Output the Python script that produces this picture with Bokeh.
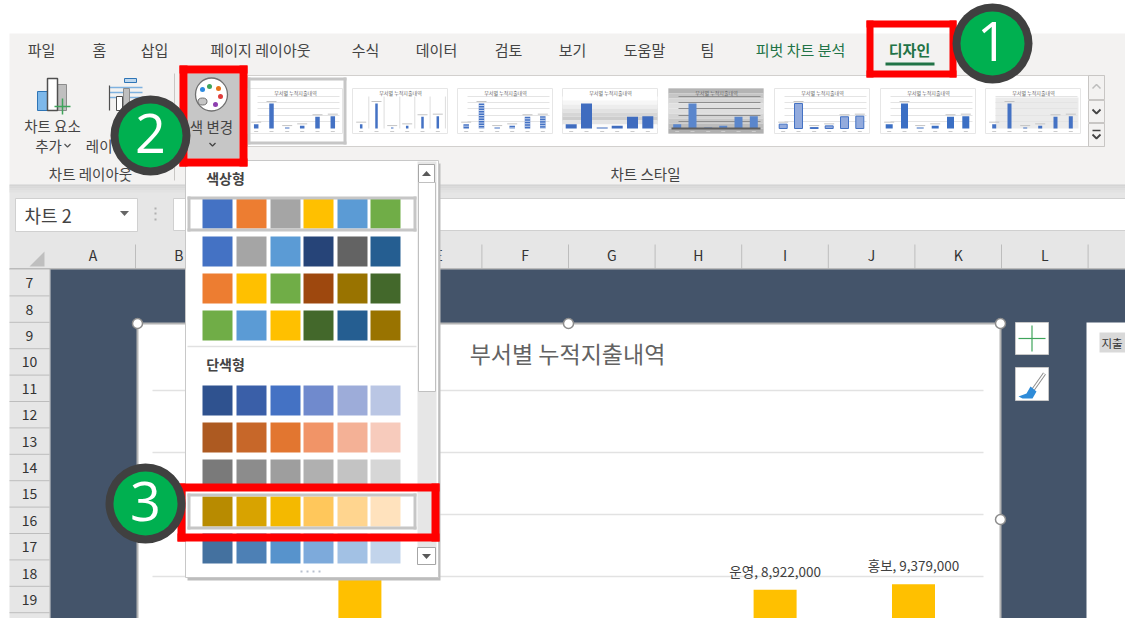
from bokeh.plotting import figure
from bokeh.models import Range1d
from bokeh.core.properties import value
from bokeh.embed import file_html
from bokeh.resources import INLINE

# ---------- data ----------
dept_labels = ["", "", "", "", "운영", "홍보"]
# first four are hidden behind the popup / below the crop: estimated from the style thumbnails
dept_spend = [3300000, 19000000, 700000, 2000000, 8922000, 9379000]
grid_values = [10000000, 15000000, 20000000, 25000000]
chart_title = "부서별 누적지출내역"

tab_names = ["파일", "홈", "삽입", "페이지 레이아웃", "수식", "데이터", "검토", "보기", "도움말", "팀"]
column_letters = ["A", "B", "C", "D", "E", "F", "G", "H", "I", "J", "K", "L"]
row_numbers = [7, 8, 9, 10, 11, 12, 13, 14, 15, 16, 17, 18, 19]

palette_colorful = [
    ["#4472C4", "#ED7D31", "#A5A5A5", "#FFC000", "#5B9BD5", "#70AD47"],
    ["#4472C4", "#A5A5A5", "#5B9BD5", "#264478", "#636363", "#255E91"],
    ["#ED7D31", "#FFC000", "#70AD47", "#9E480E", "#997300", "#43682B"],
    ["#70AD47", "#5B9BD5", "#FFC000", "#43682B", "#255E91", "#997300"],
]
palette_mono = [
    ["#2F528F", "#3A5FA8", "#4472C4", "#708ACD", "#9DACD9", "#BAC6E4"],
    ["#AD5A21", "#C76729", "#E27630", "#F19467", "#F4B196", "#F7CBBC"],
    ["#7A7A7A", "#8C8C8C", "#9E9E9E", "#B0B0B0", "#C3C3C3", "#D6D6D6"],
    ["#B88B00", "#D8A300", "#F4B900", "#FFC75B", "#FFD58F", "#FFE2BD"],
    ["#44719F", "#4D80B5", "#5793CC", "#7DAADB", "#A2C1E4", "#C2D4EB"],
]

FONT = "Noto Sans CJK KR"
W, H = 1125, 618
ZERO_ROW, PX_PER_UNIT = 700.0, 62.0 / 5000000.0

p = figure(width=W, height=H, output_backend="svg", toolbar_location=None,
           x_range=Range1d(0, W), y_range=Range1d(H, 0),
           min_border=0, min_border_left=0, min_border_right=0, min_border_top=0, min_border_bottom=0,
           background_fill_color="white", border_fill_color="white", outline_line_color=None)
p.xaxis.visible = False
p.yaxis.visible = False
p.grid.visible = False

# value and category scales of the Excel chart
p.extra_y_ranges["spend"] = Range1d((ZERO_ROW - H) / PX_PER_UNIT, ZERO_ROW / PX_PER_UNIT)
p.extra_x_ranges["dept"] = Range1d((0 - 221) / 138.4, (W - 221) / 138.4)


def box(x0, y0, x1, y1, fill, line=None, lw=1):
    p.quad(left=[x0], right=[x1], top=[y0], bottom=[y1], fill_color=fill,
           line_color=line, line_width=lw)


def frame(x0, y0, x1, y1, color, t):
    box(x0, y0, x1, y0 + t, color)
    box(x0, y1 - t, x1, y1, color)
    box(x0, y0, x0 + t, y1, color)
    box(x1 - t, y0, x1, y1, color)


def seg(xs, ys, color, lw=1):
    p.line(xs, ys, line_color=color, line_width=lw)


def txt(x, y, s, size=15, color="#444444", align="center", style="normal", font=FONT):
    p.text([x], [y], text=[s], text_font=value(font), text_font_size=f"{size}px",
           text_color=color, text_align=align, text_baseline="middle", text_font_style=style)


def tri(cx, cy, half, color, up=False):
    d = -1 if up else 1
    p.patch([cx - half, cx + half, cx], [cy - d * half * 0.55, cy - d * half * 0.55, cy + d * half * 0.55],
            fill_color=color, line_color=None)


def chevron(cx, cy, half, color, lw=1.5, up=False):
    d = -1 if up else 1
    seg([cx - half, cx, cx + half], [cy - d * half / 2, cy + d * half / 2, cy - d * half / 2], color, lw)


# ---------- ribbon ----------
box(9, 33, W, 184, "#F3F2F1")
tab_centres = [41, 99, 154, 260, 365, 436, 508, 572, 644, 707]
for n, cx in zip(tab_names, tab_centres):
    txt(cx, 49, n, 15)
txt(800, 49, "피벗 차트 분석", 15, "#217346")
txt(909, 49, "디자인", 15, "#217346", style="bold")
box(885, 62, 934, 65, "#217346")

# chart element icon
box(37, 91, 47, 110, "#7DB8EA", "#2E75B6", 1)
box(57, 84, 66, 110, "#BFBFBF", "#8C8C8C", 1)
box(47, 78, 57, 110, "white", "#505050", 1.5)
seg([62, 62], [98, 114], "#3FA45B", 1.5)
seg([54, 70], [106, 106], "#3FA45B", 1.5)
txt(52, 125, "차트 요소", 14.5)
txt(48, 145, "추가", 14.5)
chevron(67, 145, 3, "#555555", 1.2)

# quick layout icon
box(124, 78, 136, 82, "#BDD7EE", "#2E75B6", 1)
for yy in (87, 92, 97):
    seg([109, 142], [yy, yy], "#7FB2E0", 1.5)
seg([109, 109], [85, 110], "#505050", 1.2)
box(116, 96, 122, 110, "white", "#505050", 1)
box(123, 88, 129, 110, "#BFBFBF", "#8C8C8C", 1)
txt(112, 145, "레이", 14.5, align="right")
txt(90, 173, "차트 레이아웃", 14.5)
seg([174, 174], [73, 180], "#C8C6C4", 1)

# gallery
box(247, 75, 1104, 146, "white", "#D2D0CE", 1)
thumb_lefts = [247, 352, 457, 562, 668, 774, 880, 985]
thumb_bar_w = [4.5, 2.5, 5.5, 11, 8, 8, 7, 4]
thumb_bar_c = ["#4472C4", "#4472C4", "#4472C4", "#3F6CBF", "#5A86CC", "#93ABDD", "#3B6FC4", "#4472C4"]
thumb_offs = [8.7, 24, 39.7, 54.7, 70, 85.3]
for i, (tx, bw, bc) in enumerate(zip(thumb_lefts, thumb_bar_w, thumb_bar_c)):
    box(tx, 88, tx + 95, 133, "white", "#E6E6E6", 1)
    if i == 3:
        for k, c in enumerate(["#FFFFFF", "#F6F6F6", "#EDEDED", "#E2E2E2", "#D6D6D6", "#CDCDCD", "#E4E4E4", "#FBFBFB"]):
            box(tx, 96 + k * 4, tx + 95, 100 + k * 4, c)
    if i == 4:
        for k, c in enumerate(["#B4B4B4", "#C6C6C6", "#D6D6D6", "#E0E0E0", "#DEDEDE", "#D4D4D4", "#C8C8C8", "#BCBCBC", "#B0B0B0"]):
            box(tx, 88 + k * 5, tx + 95, 93 + k * 5, c)
    if i == 7:
        box(tx + 10, 97, tx + 93, 128, "#EBEBEB")
    if i == 1:
        for o in thumb_offs:
            seg([tx + o + 7.6] * 2, [96, 128], "#DDDDDD", 1)
    elif i != 3:
        for yy in (96, 102, 108, 115, 121):
            seg([tx + 10, tx + 92], [yy, yy], "#8E8E8E" if i == 4 else "#E4E4E4", 1)
    for o, v in zip(thumb_offs, dept_spend):
        h = v / 760000.0
        box(tx + o - bw / 2, 128 - h, tx + o + bw / 2, 128, bc, "#4472C4" if i == 5 else None, 1)
        if i == 2:
            yy = 128 - h + 2
            while yy < 128:
                seg([tx + o - bw / 2, tx + o + bw / 2], [yy, yy], "white", 0.7)
                yy += 2.5
        if i not in (3, 4):
            seg([tx + o - 5, tx + o + 5], [128 - h - 2] * 2, "#C4C4C4", 1)
        seg([tx + o - 2, tx + o + 2], [131, 131], "#CCCCCC", 1)
    if i == 4:
        box(tx + 3, 127, tx + 92, 129, "#5F5F5F")
    txt(tx + 48, 92, chart_title, 5, "#666666")
frame(247, 77, 346, 144, "#C6C6C6", 3)

for y0, y1 in ((75, 99), (100, 122), (123, 146)):
    box(1088, y0, 1104, y1, "#F3F2F1", "#C8C6C4", 1)
chevron(1096, 86, 4, "#BDBDBD", 1.5, up=True)
chevron(1096, 111, 4, "#444444", 1.8)
seg([1092, 1100], [130, 130], "#444444", 1.3)
chevron(1096, 136, 4, "#444444", 1.8)
txt(645, 173, "차트 스타일", 14.5)

# change-colours button
box(187, 73, 239, 158, "#C6C6C6")
p.ellipse([211], [94], width=[32], height=[33], fill_color="white", line_color="#707070", line_width=1.3)
p.ellipse([202], [101], width=[9], height=[7], fill_color="#C6C6C6", line_color="#707070", line_width=1)
for dx, dy, dc in [(202, 89, "#2E8BE0"), (209, 86, "#3FA45B"), (218, 88, "#E8731A"), (220, 96, "#E03C3C"), (215, 104, "#8E3FB0")]:
    p.circle([dx], [dy], radius=2.5, fill_color=dc, line_color=None)
txt(211, 126, "색 변경", 14.5)
chevron(212, 144, 3, "#444444", 1.3)

# ---------- formula bar, headers ----------
box(9, 184, W, 269, "#E6E6E6")
for k, c in enumerate(["#D4D4D4", "#D9D9D9", "#DEDEDE", "#E2E2E2"]):
    box(9, 184 + k * 2, W, 186 + k * 2, c)
box(15, 198, 137, 231, "white", "#D0D0D0", 1)
txt(24, 214, "차트 2", 18, align="left")
tri(124, 213, 4.5, "#666666")
for yy in (208, 213, 219):
    box(154, yy - 1, 156, yy + 1, "#B0B0B0")
box(173, 198, W, 230, "white", "#D0D0D0", 1)

col_left = 135.0
col_step = 86.6
for i, c in enumerate(column_letters):
    if i == 0:
        cx, right = 92.5, col_left
    else:
        cx, right = col_left + col_step * (i - 0.5), col_left + col_step * i
    txt(cx, 254, c, 14, "#333333")
    seg([right, right], [244, 268], "#BDBDBD", 1)
p.patch([44, 44, 29], [251, 266, 266], fill_color="#BFBFBF", line_color=None)
seg([9, W], [268.5, 268.5], "#ABABAB", 1.5)

row_top, row_h = 269.0, 26.4
box(9, 269, 49, H, "#E6E6E6")
for i, r in enumerate(row_numbers):
    seg([9, 49], [row_top + (i + 1) * row_h] * 2, "#BDBDBD", 1)
    txt(29, row_top + (i + 0.5) * row_h, str(r), 14, "#333333")
seg([49.5, 49.5], [269, H], "#ABABAB", 1)

# ---------- sheet with the Excel chart ----------
box(50, 269, W, H, "#44546A")
box(137, 323, 1000, H + 3, "white", "#B4B4B4", 2)
for v in grid_values:
    p.line([152, 983], [ZERO_ROW - v * PX_PER_UNIT] * 2, line_color="#E2E2E2", line_width=1.5)
txt(567, 352, chart_title, 23, "#636363")

dept_x = list(range(len(dept_spend)))
p.vbar(x=dept_x, top=dept_spend, bottom=0, width=43 / 138.4, fill_color="#FFC000", line_color=None,
       x_range_name="dept", y_range_name="spend")
for i, (name, v) in enumerate(zip(dept_labels, dept_spend)):
    if name:
        p.text([i], [v], text=[f"{name}, {v:,}"], x_range_name="dept", y_range_name="spend",
               text_font=value(FONT), text_font_size="13.5px", text_color="#404040",
               text_align="center", text_baseline="bottom", y_offset=-9)

for hx, hy in [(137, 323), (568, 323), (1000, 323), (1000, 519)]:
    p.circle([hx], [hy], radius=5, fill_color="white", line_color="#8C8C8C", line_width=1.5)

box(1015, 322, 1048, 354, "white", "#C8C8C8", 1)
seg([1031.5, 1031.5], [325, 351], "#3FA45B", 1.2)
seg([1018, 1045], [338, 338], "#3FA45B", 1.2)
box(1015, 367, 1048, 400, "white", "#C8C8C8", 1)
seg([1044, 1032], [373, 390], "#8C8C8C", 3.5)
seg([1044, 1032], [373, 390], "white", 1.5)
p.patch([1030, 1036, 1032, 1022, 1018, 1026], [386, 391, 398, 398, 396, 393],
        fill_color="#2E8BD8", line_color=None)

box(1086, 322, W, H, "white")
box(1099, 332, W, 352, "#D9D9D9")
txt(1101, 342, "지출", 11.5, "#333333", align="left")

# ---------- colour popup ----------
box(187, 163, 440, 580, "#BDBDBD")
box(185, 160, 438, 577, "white", "#C8C8C8", 1)
box(417, 161, 436, 564, "#E6E6E6")
box(418, 164, 434, 182, "white", "#A6A6A6", 1)
tri(426, 173, 4.5, "#595959", up=True)
box(418, 182, 435, 391, "white", "#C0C0C0", 1)
box(417, 547, 435, 564, "white", "#A6A6A6", 1)
tri(426, 556, 4.5, "#595959")
txt(225, 177, "색상형", 14, "#444444", style="bold")
txt(225, 363, "단색형", 14, "#444444", style="bold")
seg([187, 416], [346, 346], "#E1E1E1", 1.5)

sw_x = [202, 236, 270, 303, 337, 370]
sw_w = 30
for ry, row in zip([198, 236, 273, 310], palette_colorful):
    for sx, c in zip(sw_x, row):
        box(sx, ry, sx + sw_w, ry + sw_w, c)
for ry, row in zip([385, 422, 459, 496, 533], palette_mono):
    for sx, c in zip(sw_x, row):
        box(sx, ry, sx + sw_w, ry + sw_w, c)
frame(187, 196, 416, 231, "#C6C6C6", 3)
frame(187, 493, 416, 529, "#C6C6C6", 3)
for dx in (301, 307, 313, 319):
    box(dx - 1, 570, dx + 1, 572, "#B8C0CE")

# ---------- annotations ----------
frame(179, 65, 247, 166, "#FF0000", 8)
frame(866, 20, 956, 77, "#FF0000", 7)
frame(177, 483, 439, 541, "#FF0000", 8)


def badge(cx, cy, s):
    p.circle([cx], [cy], radius=40, fill_color="#404040", line_color=None)
    p.circle([cx], [cy], radius=32, fill_color="#00B050", line_color=None)
    txt(cx, cy - 2, s, 54, "white", font="Open Sans")


badge(992, 43, "1")
badge(150, 135, "2")
badge(145, 503, "3")

open("out.html", "w").write(file_html(p, INLINE))
